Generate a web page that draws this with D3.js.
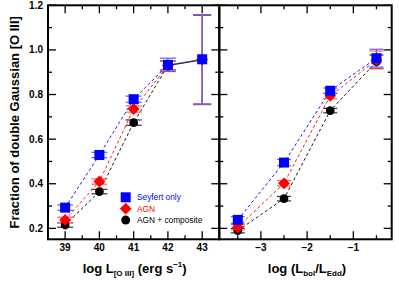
<!DOCTYPE html>
<html>
<head>
<meta charset="utf-8">
<script src="https://cdn.jsdelivr.net/npm/d3@7"></script>
<style>
  body { margin: 0; background: #fff; }
  svg { display: block; font-family: "Liberation Sans", Arial, sans-serif; }
</style>
</head>
<body>
<svg id="chart" width="399" height="282"></svg>
<script>
// left panel: log L[O III]
const lumX = [39, 40, 41, 42, 43];
const lumSeyfert = [0.293, 0.529, 0.779, 0.933, 0.958];
const lumSeyfertErr = [0.012, 0.012, 0.014, 0.03, 0.2];
const lumAGN = [0.238, 0.41, 0.735, 0.93, 0.957];
const lumAGNErr = [0.012, 0.012, 0.014, 0.02, 0.2];
const lumComp = [0.215, 0.365, 0.674, 0.93, 0.955];
const lumCompErr = [0.01, 0.01, 0.012, 0.02, 0.2];

// right panel: log (Lbol/LEdd)
const eddX = [-3.5, -2.5, -1.5, -0.5];
const eddSeyfert = [0.238, 0.495, 0.817, 0.963];
const eddSeyfertErr = [0.015, 0.014, 0.012, 0.04];
const eddAGN = [0.205, 0.402, 0.794, 0.955];
const eddAGNErr = [0.012, 0.012, 0.012, 0.04];
const eddComp = [0.19, 0.333, 0.728, 0.947];
const eddCompErr = [0.01, 0.01, 0.01, 0.03];

const yTicks = [0.2, 0.4, 0.6, 0.8, 1.0, 1.2];
const lumTicks = [39, 40, 41, 42, 43];
const eddTicks = [-3, -2, -1];
const legendNames = ["Seyfert only", "AGN", "AGN + composite"];

const blue = "#0000ff", red = "#ff0000", black = "#000000";

const svg = d3.select("#chart");
const yTop = 5.3, yBottom = 239.3;
const y = d3.scaleLinear().domain([0.151, 1.2]).range([yBottom, yTop]);
const xL = d3.scaleLinear().domain([38.5, 43.5]).range([48, 219.3]);
const xR = d3.scaleLinear().domain([-3.9, -0.17]).range([219.3, 391.7]);

function drawFrame(x, xMajor, xMinor, showLeftLabels) {
  const g = svg.append("g");
  const [x0, x1] = x.range();
  g.append("rect").attr("x", x0).attr("y", yTop).attr("width", x1 - x0).attr("height", yBottom - yTop)
    .attr("fill", "none").attr("stroke", "#000").attr("stroke-width", 2);
  const yMinor = d3.range(0.2, 1.21, 0.1);
  yMinor.forEach(v => {
    const major = yTicks.some(t => Math.abs(t - v) < 1e-6);
    const len = major ? 8 : 4;
    g.append("line").attr("x1", x0).attr("x2", x0 + len).attr("y1", y(v)).attr("y2", y(v))
      .attr("stroke", "#000").attr("stroke-width", 1.3);
    g.append("line").attr("x1", x1).attr("x2", x1 - len).attr("y1", y(v)).attr("y2", y(v))
      .attr("stroke", "#000").attr("stroke-width", 1.3);
  });
  xMinor.forEach(v => {
    const major = xMajor.some(t => Math.abs(t - v) < 1e-6);
    const len = major ? 8 : 4;
    g.append("line").attr("x1", x(v)).attr("x2", x(v)).attr("y1", yTop).attr("y2", yTop + len)
      .attr("stroke", "#000").attr("stroke-width", 1.3);
    g.append("line").attr("x1", x(v)).attr("x2", x(v)).attr("y1", yBottom).attr("y2", yBottom - len)
      .attr("stroke", "#000").attr("stroke-width", 1.3);
  });
  g.selectAll("text.xt").data(xMajor).join("text")
    .attr("x", d => x(d)).attr("y", yBottom + 12)
    .attr("text-anchor", "middle").attr("font-size", 10).attr("font-weight", "bold")
    .text(d => d < 0 ? "\u2212" + Math.abs(d) : d);
  if (showLeftLabels) {
    g.selectAll("text.yt").data(yTicks).join("text")
      .attr("x", x0 - 5).attr("y", d => y(d) + 3.5)
      .attr("text-anchor", "end").attr("font-size", 10).attr("font-weight", "bold")
      .text(d => d.toFixed(1));
  }
}

function errorBars(x, xs, ys, errs, color, capW) {
  const g = svg.append("g").attr("stroke", color).attr("stroke-width", 1.2);
  xs.forEach((xv, i) => {
    const cx = x(xv), lo = y(ys[i] - errs[i]), hi = y(ys[i] + errs[i]);
    const w = errs[i] > 0.1 ? capW + 1 : capW;
    g.append("line").attr("x1", cx).attr("x2", cx).attr("y1", lo).attr("y2", hi);
    g.append("line").attr("x1", cx - w).attr("x2", cx + w).attr("y1", lo).attr("y2", lo);
    g.append("line").attr("x1", cx - w).attr("x2", cx + w).attr("y1", hi).attr("y2", hi);
  });
}

function dashed(x, xs, ys, color) {
  svg.append("path").datum(xs.map((v, i) => [x(v), y(ys[i])]))
    .attr("d", d3.line()).attr("fill", "none").attr("stroke", color)
    .attr("stroke-width", 0.9).attr("stroke-dasharray", "3,2.5");
}

function markers(x, xs, ys, shape, color, size) {
  svg.append("g").selectAll("path").data(xs).join("path")
    .attr("transform", (d, i) => `translate(${x(d)},${y(ys[i])})` + (shape === d3.symbolSquare ? " rotate(45)" : ""))
    .attr("d", d3.symbol().type(shape).size(size)).attr("fill", color);
}

function square(x, xs, ys, color) {
  svg.append("g").selectAll("rect").data(xs).join("rect")
    .attr("x", d => x(d) - 5).attr("y", (d, i) => y(ys[i]) - 5)
    .attr("width", 10).attr("height", 10).attr("fill", color);
}

drawFrame(xL, lumTicks, d3.range(39, 43.1, 0.5), true);
drawFrame(xR, eddTicks, d3.range(-3.5, -0.4, 0.5), false);

// left panel: dashed lines from 39 to 42, solid from 42 to 43
const n = 4;
dashed(xL, lumX.slice(0, n), lumComp.slice(0, n), black);
dashed(xL, lumX.slice(0, n), lumAGN.slice(0, n), red);
dashed(xL, lumX.slice(0, n), lumSeyfert.slice(0, n), blue);
[[lumAGN, red], [lumSeyfert, "#6060ff"], [lumComp, "#222"]].forEach(([ys, c]) => {
  svg.append("line").attr("x1", xL(lumX[3])).attr("x2", xL(lumX[4]))
    .attr("y1", y(ys[3])).attr("y2", y(ys[4])).attr("stroke", c).attr("stroke-width", 0.9);
});
errorBars(xL, lumX, lumComp, lumCompErr, "#333", 8);
errorBars(xL, lumX, lumAGN, lumAGNErr, "#ff6060", 8);
errorBars(xL, lumX, lumSeyfert, lumSeyfertErr, "#6a5cf0", 8);
markers(xL, lumX, lumComp, d3.symbolCircle, black, 60);
markers(xL, lumX, lumAGN, d3.symbolSquare, red, 70);
square(xL, lumX, lumSeyfert, blue);

// right panel
dashed(xR, eddX, eddComp, black);
dashed(xR, eddX, eddAGN, red);
dashed(xR, eddX, eddSeyfert, blue);
errorBars(xR, eddX, eddComp, eddCompErr, "#333", 7);
errorBars(xR, eddX, eddAGN, eddAGNErr, "#ff6060", 7);
errorBars(xR, eddX, eddSeyfert, eddSeyfertErr, "#6a5cf0", 7);
markers(xR, eddX, eddComp, d3.symbolCircle, black, 60);
markers(xR, eddX, eddAGN, d3.symbolSquare, red, 70);
square(xR, eddX, eddSeyfert, blue);

// legend
const legColors = [blue, red, black];
const lg = svg.append("g");
legendNames.forEach((name, i) => {
  const ly = 197.3 + i * 11.4, lx = 125.7;
  if (i === 0) lg.append("rect").attr("x", lx - 5).attr("y", ly - 5).attr("width", 10).attr("height", 10).attr("fill", blue);
  if (i === 1) lg.append("path").attr("transform", `translate(${lx},${ly}) rotate(45)`).attr("d", d3.symbol().type(d3.symbolSquare).size(70)).attr("fill", red);
  if (i === 2) lg.append("circle").attr("cx", lx).attr("cy", ly).attr("r", 4.5).attr("fill", black);
  lg.append("text").attr("x", 137).attr("y", ly + 3).attr("font-size", 8.3).attr("fill", legColors[i]).text(name);
});

// axis titles
const t1 = svg.append("text").attr("x", xL(41) + 1).attr("y", 273).attr("text-anchor", "middle")
  .attr("font-size", 13).attr("font-weight", "bold");
t1.append("tspan").text("log L");
t1.append("tspan").attr("font-size", 8).attr("dy", 3).text("[O III]");
t1.append("tspan").attr("dy", -3).text(" (erg s");
t1.append("tspan").attr("font-size", 8).attr("dy", -6).text("\u22121");
t1.append("tspan").attr("dy", 6).text(")");

const t2 = svg.append("text").attr("x", 307).attr("y", 273).attr("text-anchor", "middle")
  .attr("font-size", 13).attr("font-weight", "bold");
t2.append("tspan").text("log (L");
t2.append("tspan").attr("font-size", 8).attr("dy", 3).text("bol");
t2.append("tspan").attr("dy", -3).text("/L");
t2.append("tspan").attr("font-size", 8).attr("dy", 3).text("Edd");
t2.append("tspan").attr("dy", -3).text(")");

svg.append("text").attr("transform", `translate(18.5,${(yTop + yBottom) / 2}) rotate(-90)`)
  .attr("text-anchor", "middle").attr("font-size", 13).attr("font-weight", "bold")
  .text("Fraction of double Gaussian [O III]");
</script>
</body>
</html>
